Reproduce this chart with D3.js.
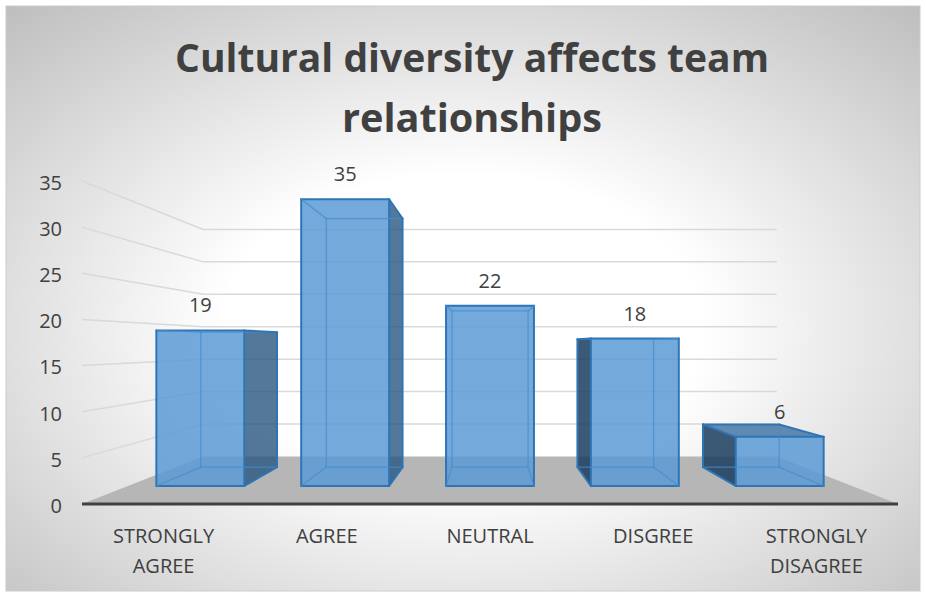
<!DOCTYPE html>
<html>
<head>
<meta charset="utf-8">
<script src="https://cdn.jsdelivr.net/npm/d3@7"></script>
<style>
  html, body { margin: 0; padding: 0; background: #ffffff; }
  svg { display: block; }
  text { font-family: "Open Sans", "Noto Sans", sans-serif; fill: #404040; }
</style>
</head>
<body>
<svg id="chart" width="926" height="597"></svg>
<script>
// Survey responses
const categories = ["STRONGLY AGREE", "AGREE", "NEUTRAL", "DISGREE", "STRONGLY DISAGREE"];
const values = [19, 35, 22, 18, 6];
const tickValues = [0, 5, 10, 15, 20, 25, 30, 35];
const titleLines = ["Cultural diversity affects team", "relationships"];

const W = 926, H = 597;
const svg = d3.select("#chart");

// Background gradient panel
const defs = svg.append("defs");
const bg = defs.append("radialGradient")
  .attr("id", "bgGrad")
  .attr("cx", 0.5).attr("cy", 0.55).attr("r", 0.75);
bg.append("stop").attr("offset", 0).attr("stop-color", "#ffffff");
bg.append("stop").attr("offset", 0.35).attr("stop-color", "#ffffff");
bg.append("stop").attr("offset", 1).attr("stop-color", "#bdbdbd");

svg.append("rect")
  .attr("x", 6).attr("y", 6).attr("width", 914).attr("height", 585)
  .attr("fill", "url(#bgGrad)")
  .attr("stroke", "#cccccc").attr("stroke-width", 1);

// Front-plane scales (depth 0); deeper points are projected toward the vanishing point
const x = d3.scaleBand().domain(categories).range([82, 898])
  .paddingInner(0.393).paddingOuter(0.1965);
const y = d3.scaleLinear().domain([0, 35]).range([504, 181]);

const vp = { x: 490, y: 344 };
const persp = 0.4225;              // back wall sits at depth 1
const barDepth = [0.30, 0.71];     // bars occupy this slice of the depth

function proj(X, Y, d) {
  const k = 1 / (1 + persp * d);
  return [vp.x + (X - vp.x) * k, vp.y + (Y - vp.y) * k];
}
const line = d3.line();

// Gridlines on the left side wall and the back wall
const grid = svg.append("g").attr("fill", "none")
  .attr("stroke", "#d9d9d9").attr("stroke-width", 1.5);
tickValues.filter(v => v > 0).forEach(v => {
  const X0 = x.range()[0], X1 = x.range()[1];
  grid.append("path").attr("d", line([
    proj(X0, y(v), 0), proj(X0, y(v), 1), proj(X1, y(v), 1)
  ]));
});

// Floor
const X0 = x.range()[0], X1 = x.range()[1], Y0 = y(0);
svg.append("path")
  .attr("d", line([proj(X0, Y0, 0), proj(X0, Y0, 1), proj(X1, Y0, 1), proj(X1, Y0, 0)]) + "Z")
  .attr("fill", "#b6b6b6");

// Category axis line along the front edge of the floor
svg.append("line")
  .attr("x1", X0).attr("x2", X1).attr("y1", Y0).attr("y2", Y0)
  .attr("stroke", "#404040").attr("stroke-width", 3);

// Value axis labels
const yAxis = svg.append("g")
  .attr("transform", "translate(70,0)")
  .call(d3.axisLeft(y).tickValues(tickValues).tickSize(0).tickPadding(8));
yAxis.select(".domain").remove();
yAxis.selectAll("text")
  .attr("dy", "0.42em")
  .style("font-family", '"Open Sans", sans-serif')
  .style("font-size", "20px")
  .attr("fill", "#404040");

// 3D columns
const bars = svg.append("g");
categories.forEach((c, i) => {
  const v = values[i];
  const L = x(c), R = x(c) + x.bandwidth();
  const T = y(v), B = y(0);
  const [d0, d1] = barDepth;
  const P = {
    fbl: proj(L, B, d0), fbr: proj(R, B, d0), ftr: proj(R, T, d0), ftl: proj(L, T, d0),
    bbl: proj(L, B, d1), bbr: proj(R, B, d1), btr: proj(R, T, d1), btl: proj(L, T, d1)
  };
  const rightVisible = R < vp.x;
  const leftVisible = L > vp.x;
  const topVisible = T > vp.y;

  const g = bars.append("g");
  const faces = [];
  if (rightVisible) faces.push({ pts: [P.fbr, P.bbr, P.btr, P.ftr], fill: "rgba(40,86,129,0.80)" });
  if (leftVisible) faces.push({ pts: [P.fbl, P.bbl, P.btl, P.ftl], fill: "rgba(26,61,93,0.85)" });
  if (topVisible) faces.push({ pts: [P.ftl, P.ftr, P.btr, P.btl], fill: "rgba(59,111,160,0.80)" });
  faces.push({ pts: [P.fbl, P.fbr, P.ftr, P.ftl], fill: "rgba(91,155,213,0.85)" });

  g.selectAll("path.face").data(faces).join("path")
    .attr("class", "face")
    .attr("d", f => line(f.pts) + "Z")
    .attr("fill", f => f.fill)
    .attr("stroke", "none");

  // Edges that lie behind the transparent faces
  const edges = [
    ["fbl", "fbr", ["front", "bottom"]], ["fbr", "ftr", ["front", "right"]],
    ["ftr", "ftl", ["front", "top"]], ["ftl", "fbl", ["front", "left"]],
    ["bbl", "bbr", ["back", "bottom"]], ["bbr", "btr", ["back", "right"]],
    ["btr", "btl", ["back", "top"]], ["btl", "bbl", ["back", "left"]],
    ["fbl", "bbl", ["bottom", "left"]], ["fbr", "bbr", ["bottom", "right"]],
    ["ftr", "btr", ["top", "right"]], ["ftl", "btl", ["top", "left"]]
  ];
  const vis = { front: true, back: false, bottom: false,
                right: rightVisible, left: leftVisible, top: topVisible };
  edges.forEach(([a, b, fs]) => {
    const shown = fs.some(f => vis[f]);
    g.append("path")
      .attr("d", line([P[a], P[b]]))
      .attr("fill", "none")
      .attr("stroke", shown ? "#2e75b6" : "rgba(70,140,205,0.75)")
      .attr("stroke-width", shown ? 2 : 1.3)
      .attr("stroke-linecap", "round");
  });

  // Value label above the front face
  svg.append("text")
    .attr("x", (P.ftl[0] + P.ftr[0]) / 2)
    .attr("y", P.ftl[1] - 18)
    .attr("text-anchor", "middle")
    .style("font-size", "20px")
    .text(v);
});

// Category labels, wrapped onto two lines where needed
categories.forEach(c => {
  const words = c.split(" ");
  const t = svg.append("text")
    .attr("text-anchor", "middle")
    .style("font-size", "20px");
  words.forEach((w, j) => {
    t.append("tspan")
      .attr("x", x(c) + x.bandwidth() / 2)
      .attr("y", 543 + j * 30)
      .text(w);
  });
});

// Title
const titleWidths = [594, 260];
titleLines.forEach((s, i) => {
  svg.append("text")
    .attr("x", 472)
    .attr("y", 72 + i * 60)
    .attr("text-anchor", "middle")
    .attr("textLength", titleWidths[i])
    .attr("lengthAdjust", "spacingAndGlyphs")
    .style("font-size", "40px")
    .style("font-weight", "bold")
    .text(s);
});
</script>
</body>
</html>
